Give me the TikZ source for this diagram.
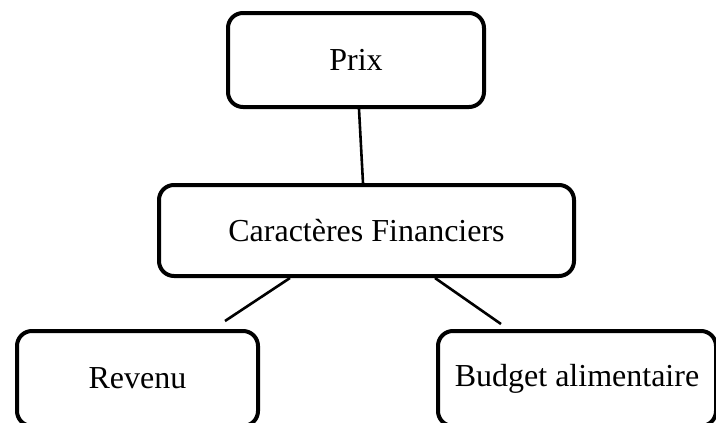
\documentclass[tikz,border=0pt]{standalone}
\usepackage{fontspec}
\setmainfont{Liberation Serif}
\usetikzlibrary{calc}
\tikzset{
  box/.style={draw=black, line width=4pt, rounded corners=15pt, fill=white,
    align=center, inner sep=0pt, font=\fontsize{32}{38}\selectfont},
  link/.style={draw=black, line width=2.6pt}
}
\begin{document}
\begin{tikzpicture}[x=1pt,y=-1pt]
  \useasboundingbox (0,0) rectangle (716,423);
  \clip (0,0) rectangle (716,423);
  % tree of boxes
  \node[box, minimum width=256pt, minimum height=94pt] (prix) at (356,60) {Prix};
  \node[box, minimum width=415pt, minimum height=91pt] (cf) at (366.5,230.5) {Caractères Financiers};
  \node[box, minimum width=241pt, minimum height=95pt] (rev) at (137.5,378.5) {Revenu};
  \node[box, minimum width=278pt, minimum height=95pt] (bud) at (577,378.5) {Budget alimentaire};
  % free ends of the lower links
  \coordinate (revtop) at (225,321);
  \coordinate (budtop) at (501,324);
  % links
  \draw[link] ([xshift=3pt]prix.south) -- ([xshift=-3.5pt]cf.north);
  \draw[link] ([xshift=-76.5pt]cf.south) -- (revtop);
  \draw[link] ([xshift=68.5pt]cf.south) -- (budtop);
\end{tikzpicture}
\end{document}
